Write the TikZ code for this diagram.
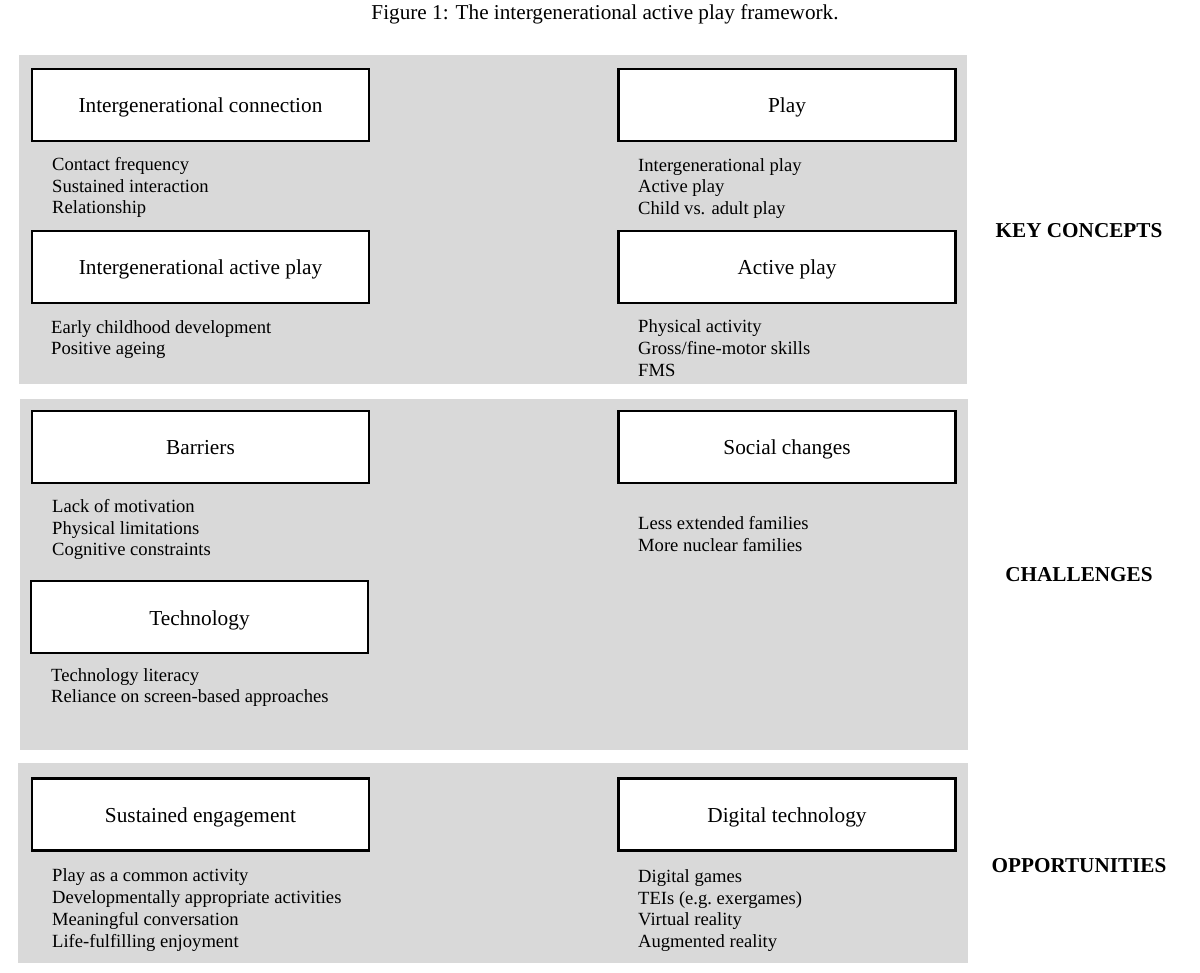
\documentclass[tikz,border=0pt]{standalone}
\usepackage{fontspec}
\setmainfont{Liberation Serif}
\definecolor{panelgrey}{HTML}{D9D9D9}
\tikzset{
  panel/.style={fill=panelgrey},
  topic/.style={draw, line width=2.5pt, fill=white, minimum width=337pt, minimum height=72pt,
    inner sep=0pt, text height=18pt, text depth=2pt, font=\fontsize{21.3}{24}\selectfont},
  items/.style={anchor=west, align=left, inner sep=0pt, font=\fontsize{18.6}{21.8}\selectfont},
  stage/.style={font=\fontsize{21.2}{24}\selectfont\bfseries},
}

\begin{document}
\begin{tikzpicture}[x=1pt, y=-1pt]
  \useasboundingbox (0,0) rectangle (1200,973);

  % Title
  \node[font=\fontsize{21.2}{24}\selectfont] (title) at (605,14) {Figure 1: The intergenerational active play framework.};

  % Grey panels
  \fill[panel] (19,55) rectangle (967,384);
  \fill[panel] (20,399) rectangle (968,750);
  \fill[panel] (18,763) rectangle (968,963);

  % Key concepts
  \node[topic] (conn) at (200.5,105) {Intergenerational connection};
  \node[items] (connlist) at (52,187.5) {Contact frequency\\Sustained interaction\\Relationship};
  \node[topic] (iap) at (200.5,267) {Intergenerational active play};
  \node[items] (iaplist) at (51,339.5) {Early childhood development\\Positive ageing};
  \node[topic] (play) at (787,105) {Play};
  \node[items] (playlist) at (638,188.5) {Intergenerational play\\Active play\\Child vs. adult play};
  \node[topic] (active) at (787,267) {Active play};
  \node[items] (activelist) at (638,348) {Physical activity\\Gross/fine-motor skills\\FMS};

  % Challenges
  \node[topic] (barriers) at (200.5,447) {Barriers};
  \node[items] (barrierslist) at (52,529.5) {Lack of motivation\\Physical limitations\\Cognitive constraints};
  \node[topic] (tech) at (199.5,617) {Technology};
  \node[items] (techlist) at (51,687.5) {Technology literacy\\Reliance on screen-based approaches};
  \node[topic] (social) at (787,447) {Social changes};
  \node[items] (sociallist) at (638,534) {Less extended families\\More nuclear families};

  % Opportunities
  \node[topic] (engage) at (200.5,814.5) {Sustained engagement};
  \node[items] (engagelist) at (52,910) {Play as a common activity\\Developmentally appropriate activities\\Meaningful conversation\\Life-fulfilling enjoyment};
  \node[topic] (digital) at (787,814.5) {Digital technology};
  \node[items] (digitallist) at (638,910.5) {Digital games\\TEIs (e.g.\ exergames)\\Virtual reality\\Augmented reality};

  % Stage labels
  \node[stage] (keyconcepts) at (1079,231) {KEY CONCEPTS};
  \node[stage] (challenges) at (1079,575) {CHALLENGES};
  \node[stage] (opportunities) at (1079,866) {OPPORTUNITIES};
\end{tikzpicture}
\end{document}
